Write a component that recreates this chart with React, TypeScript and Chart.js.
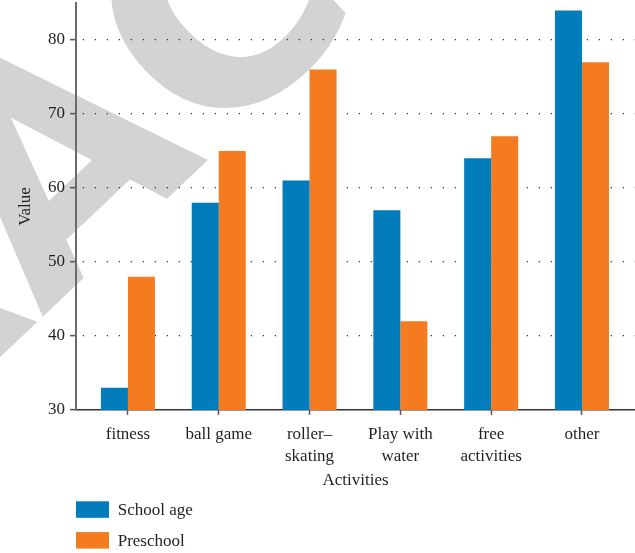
import React, { useEffect, useRef } from 'react';
import { Chart, registerables } from 'chart.js';

Chart.register(...registerables);

// Activities on the x axis (multi-line labels as arrays)
const categories: (string | string[])[] = [
  'fitness',
  'ball game',
  ['roller–', 'skating'],
  ['Play with', 'water'],
  ['free', 'activities'],
  'other',
];

const schoolAge = [33, 58, 61, 57, 64, 84];
const preschool = [48, 65, 76, 42, 67, 77];

const seriesNames = ['School age', 'Preschool'];
const seriesColors = ['#027cba', '#f47b20'];

const yMin = 30;
const yMax = 85;
const yStep = 10;

const xTitle = 'Activities';
const yTitle = 'Value';
const watermarkText = 'RETRACTED';

const FONT = '"Liberation Serif", "Times New Roman", serif';
const TEXT = '#231f20';

// Large grey diagonal stamp painted behind everything else
const watermarkPlugin = {
  id: 'watermark',
  beforeDraw(chart: any) {
    const { ctx } = chart;
    ctx.save();
    ctx.translate(209, 159);
    ctx.rotate((-43.5 * Math.PI) / 180);
    ctx.font = 'bold 298px "DejaVu Sans", sans-serif';
    ctx.fillStyle = '#d3d3d3';
    ctx.textAlign = 'left';
    ctx.textBaseline = 'alphabetic';
    const lead = ctx.measureText(watermarkText.slice(0, 5)).width;
    ctx.fillText(watermarkText, -lead, 0);
    ctx.restore();
  },
};

// Legend stacked vertically under the x axis title
const stackedLegendPlugin = {
  id: 'stackedLegend',
  afterDraw(chart: any) {
    const { ctx } = chart;
    const left = chart.scales.y.right;
    const top = chart.scales.x.bottom + 10.8;
    ctx.save();
    chart.data.datasets.forEach((ds: any, i: number) => {
      const y = top + i * 30.8;
      ctx.fillStyle = ds.backgroundColor;
      ctx.fillRect(left, y, 33, 16.5);
      ctx.fillStyle = TEXT;
      ctx.font = `17px ${FONT}`;
      ctx.textAlign = 'left';
      ctx.textBaseline = 'middle';
      ctx.fillText(ds.label, left + 41.7, y + 9.2);
    });
    ctx.restore();
  },
};

export default function App() {
  const canvasRef = useRef<HTMLCanvasElement | null>(null);

  useEffect(() => {
    document.body.style.margin = '0';
    const canvas = canvasRef.current;
    if (!canvas) return;

    const chart = new Chart(canvas, {
      type: 'bar',
      data: {
        datasets: [
          {
            label: seriesNames[0],
            data: schoolAge.map((v, i) => ({ x: i, y: v })),
            backgroundColor: seriesColors[0],
            borderWidth: 0,
          },
          {
            label: seriesNames[1],
            data: preschool.map((v, i) => ({ x: i, y: v })),
            backgroundColor: seriesColors[1],
            borderWidth: 0,
          },
        ],
      },
      options: {
        animation: false,
        responsive: true,
        maintainAspectRatio: false,
        datasets: {
          bar: { categoryPercentage: 0.595, barPercentage: 1 },
        },
        layout: { padding: { top: 3, left: 0, right: 0, bottom: 62.5 } },
        plugins: {
          legend: { display: false },
          tooltip: { enabled: false },
        },
        scales: {
          x: {
            type: 'linear',
            offset: false,
            min: -0.572,
            max: 5.584,
            afterFit: (s: any) => {
              s.paddingLeft = 0;
              s.paddingRight = 0;
            },
            grid: {
              offset: false,
              drawOnChartArea: false,
              drawTicks: true,
              tickLength: 5,
              tickColor: '#555',
              tickWidth: 1.5,
            },
            border: { display: true, color: '#333', width: 1.5 },
            ticks: {
              stepSize: 1,
              includeBounds: false,
              autoSkip: false,
              maxRotation: 0,
              padding: 8,
              color: TEXT,
              font: { family: FONT, size: 17, lineHeight: 1.32 },
              callback: (value: any) => categories[value as number] ?? '',
            },
            title: {
              display: true,
              text: xTitle,
              color: TEXT,
              font: { family: FONT, size: 17, lineHeight: 1.2 },
              padding: { top: -5.7, bottom: 0 },
            },
          },
          y: {
            type: 'linear',
            min: yMin,
            max: yMax,
            afterFit: (s: any) => {
              s.paddingTop = 0;
              s.paddingBottom = 0;
            },
            grid: {
              color: (c: any) => (c.tick && c.tick.value === yMin ? 'rgba(0,0,0,0)' : '#3a3a3a'),
              lineWidth: 1.3,
              drawTicks: true,
              tickLength: 6,
              tickColor: '#555',
              tickWidth: 1.5,
              tickBorderDash: [],
            },
            border: {
              display: true,
              color: '#6b6b6b',
              width: 2,
              dash: [1.3, 10.7],
              dashOffset: -5.7,
            },
            ticks: {
              stepSize: yStep,
              includeBounds: false,
              padding: 5,
              color: TEXT,
              font: { family: FONT, size: 17 },
            },
            title: {
              display: true,
              text: yTitle,
              color: TEXT,
              font: { family: FONT, size: 17, lineHeight: 1.2 },
              padding: { top: 15, bottom: 7.6 },
            },
          },
        },
      } as any,
      plugins: [watermarkPlugin, stackedLegendPlugin],
    });

    return () => chart.destroy();
  }, []);

  return (
    <div style={{ position: 'relative', width: 635, height: 553 }}>
      <canvas ref={canvasRef} />
    </div>
  );
}
